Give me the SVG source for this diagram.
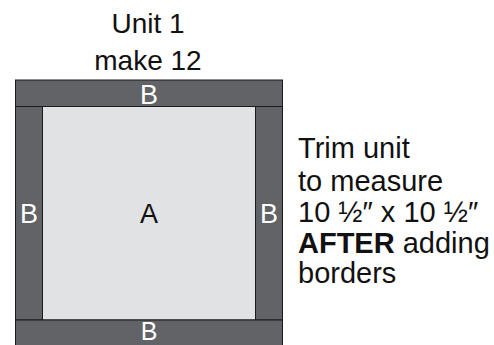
<svg xmlns="http://www.w3.org/2000/svg" width="494" height="345" viewBox="0 0 494 345">
<style>
.t{font-family:"Liberation Sans",Arial,sans-serif;font-size:28px;fill:#111}
.n{font-size:29px}
.b{font-family:"Liberation Sans",Arial,sans-serif;font-size:27px;fill:#fff;text-anchor:middle}
.dark{fill:#626366;stroke:#1a1a1a;stroke-width:1}
.light{fill:#e1e2e4;stroke:#1a1a1a;stroke-width:1}
</style>
<rect width="494" height="345" fill="#fff"/>
<g id="title">
<text class="t" x="148" y="33" text-anchor="middle">Unit 1</text>
<text class="t" x="148" y="70" text-anchor="middle">make 12</text>
</g>
<g id="A">
<rect class="light" x="42.5" y="106.5" width="213" height="213.5"/>
<text class="b" x="149" y="223" style="fill:#111">A</text>
</g>
<g id="B-top">
<rect class="dark" x="15.5" y="80" width="267" height="26.5"/>
<text class="b" x="149" y="104">B</text>
</g>
<g id="B-left">
<rect class="dark" x="15.5" y="106.5" width="27" height="213.5"/>
<text class="b" x="29" y="223">B</text>
</g>
<g id="B-right">
<rect class="dark" x="255.5" y="106.5" width="27" height="213.5"/>
<text class="b" x="269" y="223">B</text>
</g>
<g id="B-bottom">
<rect class="dark" x="15.5" y="320" width="267" height="30"/>
<text class="b" x="149" y="340" style="font-size:25px">B</text>
</g>
<g id="note">
<text class="t n" x="298" y="158">Trim unit</text>
<text class="t n" x="298" y="191">to measure</text>
<text class="t n" x="298" y="222">10 ½″ x 10 ½″</text>
<text class="t n" x="298" y="253"><tspan font-weight="bold">AFTER</tspan> adding</text>
<text class="t n" x="298" y="283">borders</text>
</g>
<g id="connectors"/>
</svg>
